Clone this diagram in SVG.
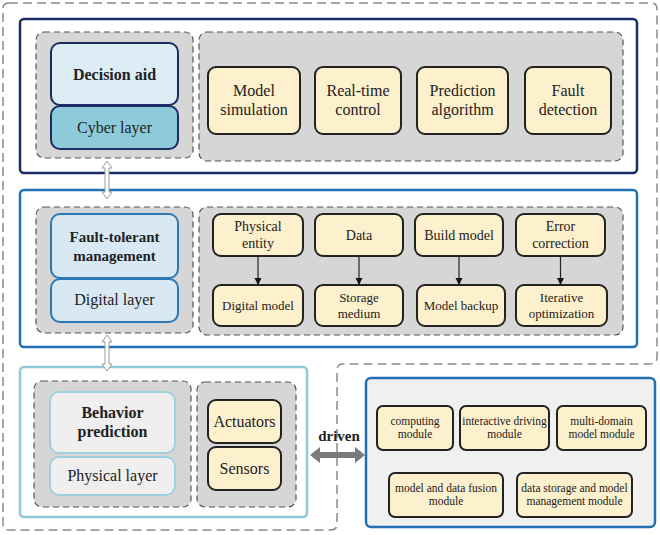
<svg xmlns="http://www.w3.org/2000/svg" width="660" height="535" viewBox="0 0 660 535">
<defs>
<style>
text{font-family:"Times New Roman","Liberation Serif",Times,"DejaVu Serif",serif;fill:#222;text-anchor:middle}
.outer{fill:none;stroke:#8a8a8a;stroke-width:1.5;stroke-dasharray:9 5}
.grp{fill:#d6d6d6;stroke:#555;stroke-width:1.2;stroke-dasharray:6 4}
.yb{fill:#fdf0cc;stroke:#222;stroke-width:2}
.t16{font-size:16px}
.t15{font-size:15px}
.t14{font-size:14px}
.t13{font-size:13px}
.t11{font-size:11.5px}
.b{font-weight:bold}
.dar{fill:#fff;stroke:#999;stroke-width:1}
.conn{stroke:#222;stroke-width:1.2;fill:none;marker-end:url(#ah)}
</style>
<marker id="ah" viewBox="0 0 10 10" refX="10" refY="5" markerWidth="7" markerHeight="9" markerUnits="userSpaceOnUse" orient="auto">
<path d="M0,0 L10,5 L0,10 z" fill="#111"/>
</marker>
</defs>
<rect width="660" height="535" fill="#fff"/>
<path class="outer" d="M9,3 H651 Q657,3 657,9 V357 Q657,364 650,364 H343 Q337,364 337,370 V524 Q337,530 331,530 H9 Q3,530 3,524 V9 Q3,3 9,3 Z"/>

<g id="cyber">
<rect x="20" y="19" width="617" height="154" rx="4" fill="#fff" stroke="#1b2b63" stroke-width="2.5"/>
<rect class="grp" x="36" y="32" width="157" height="126" rx="8"/>
<rect class="grp" x="199" y="32" width="424" height="129" rx="8"/>
</g>
<g id="decision-aid">
<rect x="51" y="43" width="127" height="62" rx="9" fill="#dcedf6" stroke="#1b2b63" stroke-width="2"/>
<text class="t16 b" x="114.5" y="80">Decision aid</text>
</g>
<g id="cyber-layer">
<rect x="51" y="106" width="127" height="43" rx="9" fill="#8dcbda" stroke="#1b2b63" stroke-width="2"/>
<text class="t16" x="114.5" y="133">Cyber layer</text>
</g>
<g id="model-simulation">
<rect class="yb" x="208" y="67" width="92" height="67" rx="8"/>
<text class="t16" x="254" y="96">Model</text><text class="t16" x="254" y="115">simulation</text>
</g>
<g id="real-time-control">
<rect class="yb" x="315" y="67" width="86" height="67" rx="8"/>
<text class="t16" x="358" y="96">Real-time</text><text class="t16" x="358" y="115">control</text>
</g>
<g id="prediction-algorithm">
<rect class="yb" x="417" y="67" width="91" height="67" rx="8"/>
<text class="t16" x="462.5" y="96">Prediction</text><text class="t16" x="462.5" y="115">algorithm</text>
</g>
<g id="fault-detection">
<rect class="yb" x="525" y="67" width="86" height="67" rx="8"/>
<text class="t16" x="568" y="96">Fault</text><text class="t16" x="568" y="115">detection</text>
</g>

<g id="digital">
<rect x="20" y="190" width="617" height="157" rx="4" fill="#fff" stroke="#2271b5" stroke-width="2.5"/>
<rect class="grp" x="36" y="207" width="157" height="126" rx="8"/>
<rect class="grp" x="199" y="207" width="424" height="128" rx="8"/>
</g>
<g id="fault-tolerant">
<rect x="51" y="214" width="127" height="64" rx="9" fill="#d8e9f3" stroke="#2a78b8" stroke-width="2"/>
<text class="t15 b" x="114.5" y="242">Fault-tolerant</text><text class="t15 b" x="114.5" y="261">management</text>
</g>
<g id="digital-layer">
<rect x="51" y="279" width="127" height="43" rx="9" fill="#d8e9f3" stroke="#2a78b8" stroke-width="2"/>
<text class="t16" x="114.5" y="305">Digital layer</text>
</g>
<g id="physical-entity">
<rect class="yb" x="213" y="214" width="90" height="42" rx="8"/>
<text class="t14" x="258" y="231">Physical</text><text class="t14" x="258" y="248">entity</text>
</g>
<g id="data">
<rect class="yb" x="315" y="214" width="88" height="42" rx="8"/>
<text class="t14" x="359" y="240">Data</text>
</g>
<g id="build-model">
<rect class="yb" x="415" y="214" width="88" height="42" rx="8"/>
<text class="t14" x="459" y="240">Build model</text>
</g>
<g id="error-correction">
<rect class="yb" x="516" y="214" width="89" height="42" rx="8"/>
<text class="t14" x="560.5" y="231">Error</text><text class="t14" x="560.5" y="248">correction</text>
</g>
<g id="digital-model">
<rect class="yb" x="213" y="285" width="90" height="41" rx="8"/>
<text class="t13" x="258" y="310">Digital model</text>
</g>
<g id="storage-medium">
<rect class="yb" x="315" y="285" width="88" height="41" rx="8"/>
<text class="t13" x="359" y="302">Storage</text><text class="t13" x="359" y="318">medium</text>
</g>
<g id="model-backup">
<rect class="yb" x="417" y="285" width="88" height="41" rx="8"/>
<text class="t13" x="461" y="310">Model backup</text>
</g>
<g id="iterative-optimization">
<rect class="yb" x="516" y="285" width="91" height="41" rx="8"/>
<text class="t13" x="561.5" y="302">Iterative</text><text class="t13" x="561.5" y="318">optimization</text>
</g>

<g id="physical">
<rect x="20" y="367" width="287" height="150" rx="4" fill="#fff" stroke="#90cad9" stroke-width="2.5"/>
<rect class="grp" x="34" y="381" width="157" height="126" rx="8"/>
<rect class="grp" x="197" y="382" width="99" height="125" rx="8"/>
</g>
<g id="behavior-prediction">
<rect x="50" y="392" width="125" height="61" rx="9" fill="#efefef" stroke="#9ed1dd" stroke-width="2"/>
<text class="t16 b" x="112.5" y="418">Behavior</text><text class="t16 b" x="112.5" y="437">prediction</text>
</g>
<g id="physical-layer">
<rect x="50" y="457" width="125" height="38" rx="9" fill="#efefef" stroke="#9ed1dd" stroke-width="2"/>
<text class="t16" x="112.5" y="481">Physical layer</text>
</g>
<g id="actuators">
<rect class="yb" x="208" y="400" width="73" height="43" rx="8"/>
<text class="t16" x="244.5" y="427">Actuators</text>
</g>
<g id="sensors">
<rect class="yb" x="208" y="447" width="73" height="43" rx="8"/>
<text class="t16" x="244.5" y="474">Sensors</text>
</g>

<g id="modules">
<rect x="366" y="378" width="289" height="149" rx="5" fill="#f0f0f0" stroke="#2271b5" stroke-width="2.5"/>
</g>
<g id="computing-module">
<rect class="yb" x="377" y="406" width="76" height="44" rx="6"/>
<text class="t11" x="415" y="425">computing</text><text class="t11" x="415" y="438">module</text>
</g>
<g id="interactive-driving-module">
<rect class="yb" x="460" y="406" width="89" height="44" rx="6"/>
<text class="t11" x="504.5" y="425">interactive driving</text><text class="t11" x="504.5" y="438">module</text>
</g>
<g id="multi-domain-model-module">
<rect class="yb" x="557" y="406" width="89" height="44" rx="6"/>
<text class="t11" x="601.5" y="425">multi-domain</text><text class="t11" x="601.5" y="438">model module</text>
</g>
<g id="model-data-fusion-module">
<rect class="yb" x="389" y="473" width="114" height="44" rx="6"/>
<text class="t11" x="446" y="492">model and data fusion</text><text class="t11" x="446" y="505">module</text>
</g>
<g id="data-storage-module">
<rect class="yb" x="517" y="473" width="115" height="44" rx="6"/>
<text class="t11" x="574.5" y="492">data storage and model</text><text class="t11" x="574.5" y="505">management module</text>
</g>

<g id="connectors">
<line class="conn" x1="258" y1="256" x2="258" y2="285"/>
<line class="conn" x1="359" y1="256" x2="359" y2="285"/>
<line class="conn" x1="459" y1="256" x2="459" y2="285"/>
<line class="conn" x1="560.5" y1="256" x2="560.5" y2="285"/>
<path class="dar" d="M107,161 L112,168 L109,168 L109,192 L112,192 L107,199 L102,192 L105,192 L105,168 L102,168 Z"/>
<path class="dar" d="M107,335 L112,342 L109,342 L109,364 L112,364 L107,371 L102,364 L105,364 L105,342 L102,342 Z"/>
<path d="M310,455 L320,447 L320,452 L355,452 L355,447 L365,455 L355,463 L355,458 L320,458 L320,463 Z" fill="#7a7a7a"/>
<text class="t15 b" x="339" y="441">driven</text>
</g>
</svg>
